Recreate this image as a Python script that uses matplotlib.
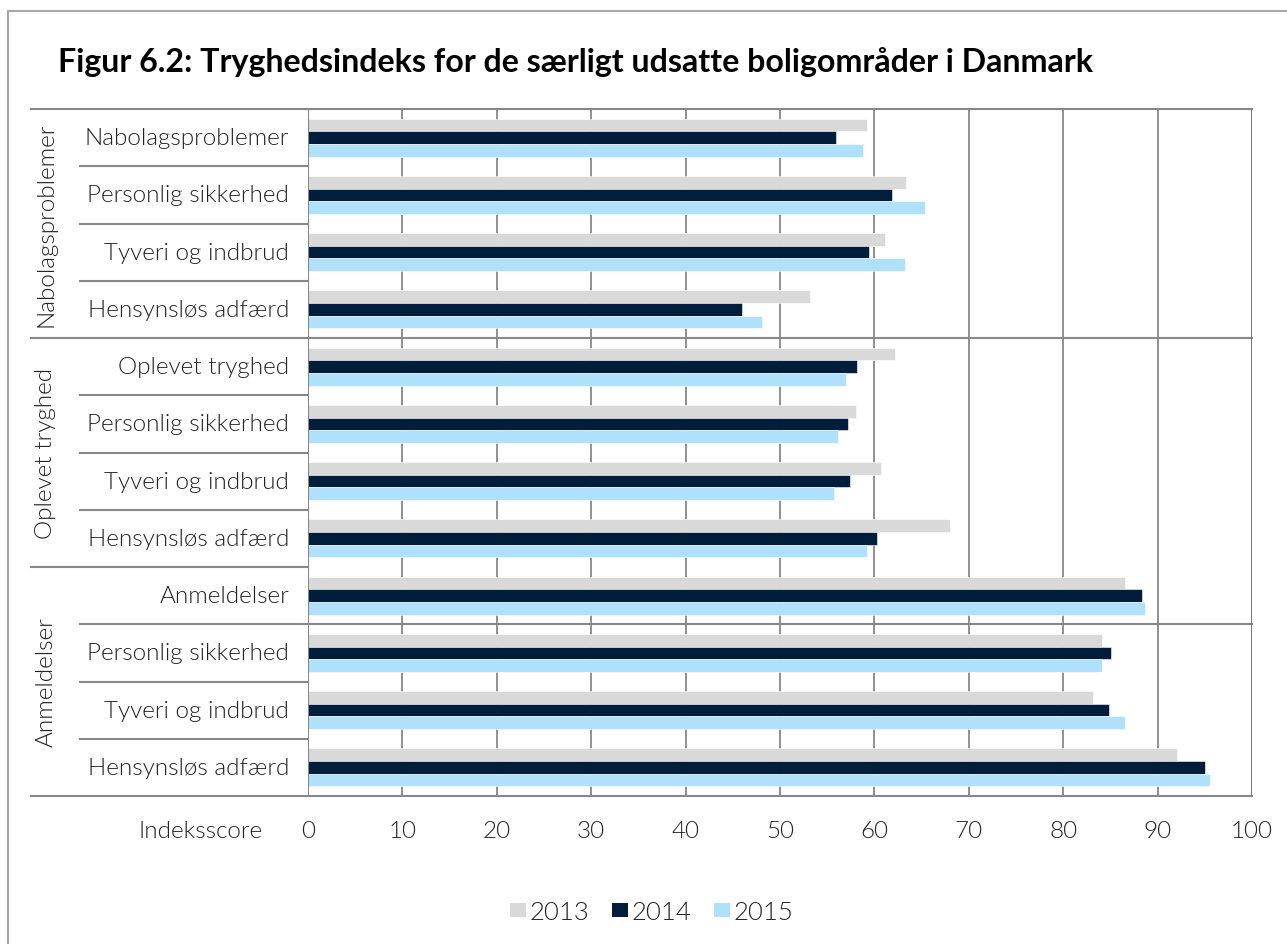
import matplotlib
matplotlib.use("Agg")
import matplotlib.pyplot as plt
from matplotlib.patches import Patch
from matplotlib.lines import Line2D
import matplotlib.transforms as mtransforms

# ---------------- data ----------------
groups = ["Nabolagsproblemer", "Oplevet tryghed", "Anmeldelser"]
group_sizes = [4, 4, 4]
categories = [
    "Nabolagsproblemer", "Personlig sikkerhed", "Tyveri og indbrud", "Hensynsløs adfærd",
    "Oplevet tryghed", "Personlig sikkerhed", "Tyveri og indbrud", "Hensynsløs adfærd",
    "Anmeldelser", "Personlig sikkerhed", "Tyveri og indbrud", "Hensynsløs adfærd",
]
years = ["2013", "2014", "2015"]
v2013 = [59.2, 63.4, 61.1, 53.2, 62.2, 58.0, 60.7, 68.0, 86.5, 84.1, 83.2, 92.1]
v2014 = [55.9, 61.9, 59.4, 46.0, 58.2, 57.2, 57.4, 60.3, 88.3, 85.1, 84.9, 95.0]
v2015 = [58.8, 65.4, 63.2, 48.1, 57.0, 56.1, 55.7, 59.2, 88.7, 84.1, 86.5, 95.6]
xticks = [0, 10, 20, 30, 40, 50, 60, 70, 80, 90, 100]
title = "Figur 6.2: Tryghedsindeks for de særligt udsatte boligområder i Danmark"
xlabel = "Indeksscore"

colors = ["#D9D9D9", "#001E3C", "#AFE1FD"]
grid_c = "#878787"
FONT = ["Lato", "DejaVu Sans"]
WT = 300
TXT = "#222222"
FS = 17.5

W, H = 1287, 945
fig = plt.figure(figsize=(W / 100, H / 100), dpi=100)
fig.patch.set_facecolor("white")

def fx(px):
    return px / W

def fy(py):
    return 1 - py / H

L, R, T, B = 308, 1252, 110, 797
ax = fig.add_axes([fx(L), fy(B), fx(R) - fx(L), fy(T) - fy(B)])

n = len(categories)
ys = list(range(n))
h = 0.22
for i, (vals, c) in enumerate(zip([v2013, v2014, v2015], colors)):
    ax.barh([y + (i - 1) * h for y in ys], vals, height=h, color=c,
            edgecolor="white", linewidth=0.4, zorder=3, label=years[i])

ax.set_xlim(0, 100)
ax.set_ylim(n - 0.5, -0.5)
ax.set_xticks(xticks)
ax.set_xticklabels([str(t) for t in xticks])
ax.set_yticks([])
ax.tick_params(axis="x", length=0, pad=17, labelsize=FS, colors=TXT)
for lab in ax.get_xticklabels():
    lab.set_family(FONT)
    lab.set_fontweight(WT)

for s in ax.spines.values():
    s.set_visible(False)

# vertical gridlines
for t in xticks:
    ax.axvline(t, color=grid_c, lw=1.3, zorder=1)
ax.axvline(100, color="#707070", lw=1.8, zorder=4)
ax.axvline(0, color=grid_c, lw=1.5, zorder=4)

trans = mtransforms.blended_transform_factory(ax.transAxes, ax.transData)
x_inner = (80 - L) / (R - L)
x_outer = (31 - L) / (R - L)

# horizontal lines: top and bottom, full width incl. label area
for yb in [-0.5, n - 0.5]:
    ax.plot([x_outer, 1], [yb, yb], color=grid_c, lw=1.5, transform=trans,
            clip_on=False, zorder=4)
# plot-area gridlines (as in source)
for yb in [3.5, 8.5]:
    ax.plot([0, 1], [yb, yb], color=grid_c, lw=1.5, transform=trans,
            clip_on=False, zorder=2)

# label-area separators
start = 0
group_bounds = []
for gs in group_sizes:
    group_bounds.append((start, start + gs))
    start += gs
group_edges = {b[0] for b in group_bounds if b[0] > 0}
for k in range(1, n):
    yb = k - 0.5
    x0 = x_outer if k in group_edges else x_inner
    ax.plot([x0, 0], [yb, yb], color=grid_c, lw=1.5, transform=trans,
            clip_on=False, zorder=4)

# category labels
xlab = (289 - L) / (R - L)
for y, c in zip(ys, categories):
    ax.text(xlab, y, c, transform=trans, ha="right", va="center",
            fontsize=FS, family=FONT, fontweight=WT, color=TXT)

# group labels
xg = (46 - L) / (R - L)
for g, (a, b) in zip(groups, group_bounds):
    ax.text(xg, (a + b - 1) / 2, g, transform=trans, rotation=90, ha="center",
            va="center", fontsize=FS, family=FONT, fontweight=WT, color=TXT)

# x label
fig.text(fx(263), fy(832), xlabel, ha="right", va="center", fontsize=FS,
         family=FONT, fontweight=WT, color=TXT)

# title
fig.text(fx(58), fy(72), title, ha="left", va="baseline", fontsize=23.1,
         family=FONT, fontweight="bold", color="black")

# frame
fig.add_artist(Line2D([fx(8), 1], [fy(12), fy(12)], color="#A6A6A6", lw=1.5))
fig.add_artist(Line2D([fx(8), fx(8)], [0, fy(12)], color="#A6A6A6", lw=1.5))

LFS = 18.5
lpx = LFS * 100 / 72
handles = [Patch(facecolor=c, edgecolor="none") for c in colors]
leg = fig.legend(handles, years, loc="center left", bbox_to_anchor=(fx(510), fy(913)),
                 ncol=3, frameon=False, borderpad=0, borderaxespad=0,
                 handlelength=16 / lpx, handleheight=13 / lpx,
                 handletextpad=4 / lpx, columnspacing=22 / lpx,
                 prop={"family": FONT, "weight": WT, "size": LFS})
for t in leg.get_texts():
    t.set_color(TXT)

fig.savefig("out.png", dpi=100, facecolor="white")
